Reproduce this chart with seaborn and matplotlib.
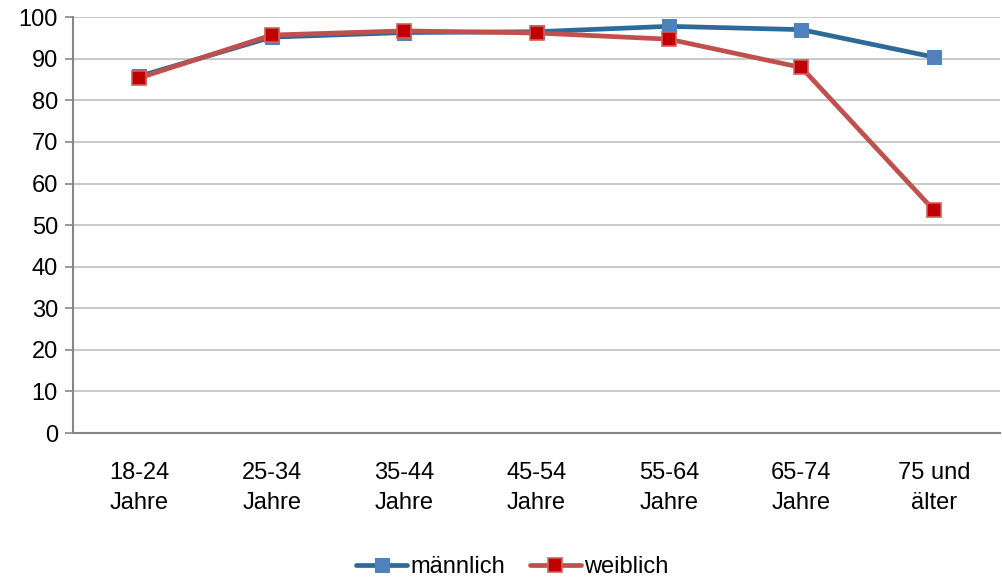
import matplotlib
matplotlib.use("Agg")
import matplotlib.pyplot as plt
import seaborn as sns
import pandas as pd
import numpy as np

categories = ["18-24\nJahre", "25-34\nJahre", "35-44\nJahre", "45-54\nJahre",
              "55-64\nJahre", "65-74\nJahre", "75 und\nälter"]
maennlich = [85.8, 95.2, 96.3, 96.5, 97.8, 97.0, 90.4]
weiblich = [85.4, 95.7, 96.7, 96.2, 94.7, 87.9, 53.6]
y_ticks = list(range(0, 101, 10))

sns.set_theme(style="white")
plt.rcParams["font.family"] = ["Liberation Sans", "DejaVu Sans"]
plt.rcParams["text.color"] = "black"

FS = 17

fig = plt.figure(figsize=(10.02, 5.8), dpi=100)
ax = fig.add_axes([0.073, 0.2534, 0.925, 0.717])

pos = np.arange(len(categories))
df_m = pd.DataFrame({"x": pos, "y": maennlich})
df_w = pd.DataFrame({"x": pos, "y": weiblich})

sns.lineplot(data=df_m, x="x", y="y", ax=ax, color="#2E6A97", linewidth=3.4,
             marker="s", markersize=9.5, markerfacecolor="#4F81BD",
             markeredgecolor="#4F81BD", label="männlich", zorder=3)
sns.lineplot(data=df_w, x="x", y="y", ax=ax, color="#C0504D", linewidth=3.4,
             marker="s", markersize=9.5, markerfacecolor="#C00000",
             markeredgecolor="#D0605D", markeredgewidth=1.2,
             label="weiblich", zorder=4)

ax.set_xlim(-0.5, len(categories) - 0.5)
ax.set_ylim(0, 100)
ax.set_yticks(y_ticks)
ax.set_yticklabels([str(t) for t in y_ticks], fontsize=FS, color="black")
ax.set_xticks(pos)
ax.set_xticklabels(categories, fontsize=FS, linespacing=1.45, color="black")
ax.set_xticks(np.arange(-0.5, len(categories), 1.0), minor=True)
ax.tick_params(axis="x", which="major", length=0, pad=21)
ax.tick_params(axis="x", which="minor", length=6, width=1.2, color="#868686",
               direction="out")
ax.tick_params(axis="y", length=6, width=1.2, color="#868686", direction="out",
               pad=5, left=True)
ax.set_xlabel("")
ax.set_ylabel("")

ax.yaxis.grid(True, color="#C0C0C0", linewidth=1.2)
ax.set_axisbelow(True)
for s in ["top", "right"]:
    ax.spines[s].set_visible(False)
for s in ["left", "bottom"]:
    ax.spines[s].set_color("#868686")
    ax.spines[s].set_linewidth(1.5)

ax.legend(loc="center", bbox_to_anchor=(0.474, -0.322), ncol=2,
          frameon=False, fontsize=FS, handlelength=2.15, handletextpad=0.15,
          columnspacing=1.05, borderaxespad=0, borderpad=0)

fig.savefig("out.png", dpi=100)
